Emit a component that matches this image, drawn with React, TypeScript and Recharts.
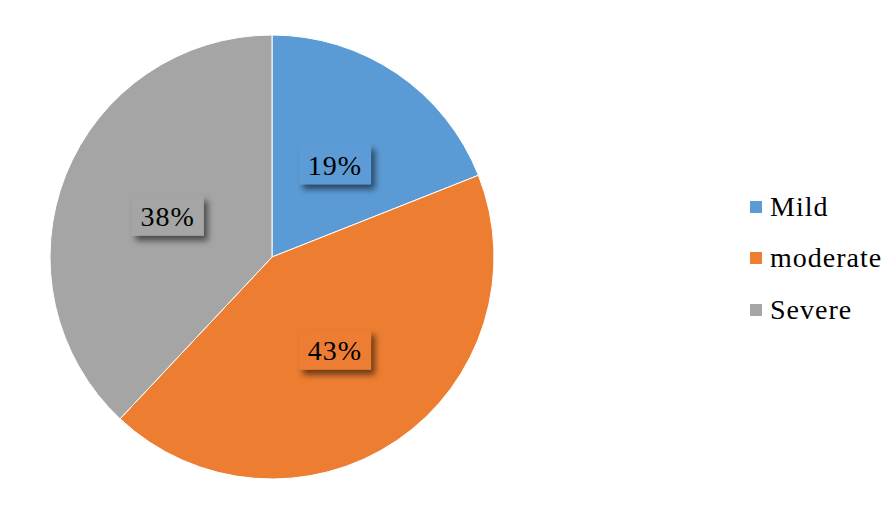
import { PieChart, Pie, Cell, Legend } from 'recharts'

const CATEGORIES = ['Mild', 'moderate', 'Severe']
const VALUES = [19, 43, 38]
const COLORS = ['#5B9BD5', '#ED7D31', '#A5A5A5']

const data = CATEGORIES.map((name, i) => ({ name, value: VALUES[i] }))

const RAD = Math.PI / 180
const FONT = 'Liberation Serif'
// serif faces switch to a sans fallback at 29px and up in this sandbox
const FONT_SIZE = 28

function renderLabel(props: any) {
  const { cx, cy, midAngle, outerRadius, index, value } = props
  const r = outerRadius * 0.505
  const x = cx + r * Math.cos(-midAngle * RAD)
  const y = cy + r * Math.sin(-midAngle * RAD)
  const w = 72
  const h = 40
  return (
    <g>
      <rect
        x={x - w / 2}
        y={y - h / 2}
        width={w}
        height={h}
        fill={COLORS[index % COLORS.length]}
        filter="url(#lblShadow)"
      />
      <text
        x={x}
        y={y + 1}
        textAnchor="middle"
        dominantBaseline="central"
        style={{ fontFamily: FONT, fontSize: FONT_SIZE, letterSpacing: 1 }}
        fill="#000"
      >
        {value}%
      </text>
    </g>
  )
}

function renderLegend() {
  return (
    <div style={{ fontFamily: FONT, fontSize: FONT_SIZE, letterSpacing: 1, color: '#000' }}>
      {data.map((d, i) => (
        <div
          key={d.name}
          style={{ display: 'flex', alignItems: 'center', height: 51.5 }}
        >
          <span
            style={{
              width: 12,
              height: 12,
              background: COLORS[i],
              marginRight: 8,
              display: 'inline-block',
            }}
          />
          <span>{d.name}</span>
        </div>
      ))}
    </div>
  )
}

export default function App() {
  return (
    <div
      style={{
        position: 'absolute',
        left: 0,
        top: 0,
        background: '#fff',
        fontFamily: FONT,
        fontSize: FONT_SIZE,
      }}
    >
      <PieChart width={883} height={513} margin={{ top: 0, right: 0, bottom: 0, left: 0 }}>
        <defs>
          <filter id="lblShadow" x="-30%" y="-30%" width="170%" height="190%">
            <feDropShadow dx="4" dy="5" stdDeviation="3" floodColor="#000" floodOpacity="0.55" />
          </filter>
        </defs>
        <Pie
          data={data}
          dataKey="value"
          nameKey="name"
          cx={272}
          cy={257}
          outerRadius={222}
          startAngle={90}
          endAngle={-270}
          stroke="#fff"
          strokeWidth={1}
          label={renderLabel}
          labelLine={false}
          isAnimationActive={false}
        >
          {data.map((_, i) => (
            <Cell key={i} fill={COLORS[i]} />
          ))}
        </Pie>
        <Legend
          content={renderLegend}
          layout="vertical"
          align="right"
          verticalAlign="top"
          wrapperStyle={{ left: 750, top: 181, width: 133 }}
        />
      </PieChart>
    </div>
  )
}
